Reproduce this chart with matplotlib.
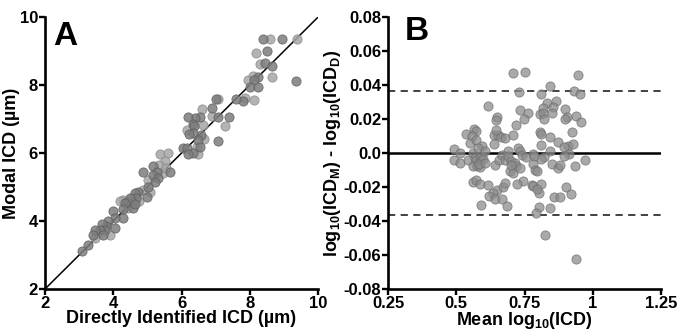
import numpy as np
import matplotlib
matplotlib.use("Agg")
import matplotlib.pyplot as plt

plt.rcParams['font.family'] = ['Liberation Sans', 'DejaVu Sans']
plt.rcParams['font.weight'] = 'bold'
plt.rcParams['mathtext.fontset'] = 'custom'
plt.rcParams['mathtext.rm'] = 'Liberation Sans:bold'
plt.rcParams['mathtext.it'] = 'Liberation Sans:bold'
plt.rcParams['mathtext.bf'] = 'Liberation Sans:bold'
plt.rcParams['mathtext.default'] = 'rm'

# Panel A: directly identified ICD vs modal ICD (um), two shades of points
a_dark_x = [8.39, 8.93, 8.49, 8.44, 8.66, 8.24, 9.35, 8.11, 8.00, 8.24, 7.80, 7.60, 7.02,
            7.40, 7.07, 7.07, 6.88, 6.54, 6.39, 6.20, 6.34, 6.36, 6.58, 6.34, 6.21, 6.49,
            6.54, 6.05, 6.15, 6.34, 6.20, 5.15, 5.66, 5.27, 5.17, 5.32, 5.22, 4.88, 5.02,
            4.98, 4.73, 4.63, 4.68, 4.39, 4.54, 4.49, 4.34, 4.59, 4.29, 4.63, 4.29, 4.00,
            4.05, 4.05, 3.85, 3.80, 3.66, 3.76, 3.61, 3.71, 3.46, 3.41, 3.27, 3.07]
a_dark_y = [9.36, 9.36, 9.00, 8.65, 8.56, 8.24, 8.12, 8.16, 7.93, 7.93, 7.53, 7.60, 7.60,
            7.07, 7.05, 6.36, 7.34, 7.05, 7.02, 7.05, 6.85, 6.79, 6.53, 6.58, 6.56, 6.38,
            6.19, 6.14, 6.14, 6.00, 5.97, 5.62, 5.45, 5.45, 5.35, 5.26, 5.16, 5.45, 5.00,
            4.72, 4.84, 4.82, 4.67, 4.57, 4.52, 4.67, 4.52, 4.38, 4.35, 4.50, 4.08, 4.30,
            4.08, 3.79, 3.99, 3.84, 3.92, 3.74, 3.74, 3.59, 3.74, 3.59, 3.30, 3.13]
a_light_x = [8.59, 9.37, 8.18, 8.29, 8.66, 8.10, 7.95, 8.11, 7.85, 7.07, 6.90, 7.27, 6.61,
             6.63, 6.15, 6.65, 6.44, 6.49, 5.37, 5.61, 5.51, 5.35, 5.46, 5.02, 5.07, 4.88,
             4.54, 4.29, 4.44, 3.56, 3.46, 3.90, 4.20, 4.75, 5.55]
a_light_y = [9.36, 9.36, 8.94, 8.61, 8.24, 8.26, 8.14, 7.55, 7.63, 7.58, 7.08, 6.80, 7.31,
             6.82, 6.67, 6.40, 6.19, 5.97, 5.97, 6.00, 5.78, 5.65, 5.40, 5.21, 4.84, 4.91,
             4.67, 4.62, 4.38, 3.64, 3.50, 3.60, 4.60, 4.60, 5.55]

# Panel B: Bland-Altman style, mean log10(ICD) vs difference of log10 values
b_mean = [0.708, 0.751, 0.947, 0.843, 0.730, 0.810, 0.932, 0.953, 0.865, 0.831, 0.617,
          0.816, 0.855, 0.735, 0.898, 0.763, 0.806, 0.819, 0.852, 0.938, 0.904, 0.900,
          0.821, 0.650, 0.645, 0.749, 0.718, 0.958, 0.925, 0.806, 0.810, 0.537, 0.565,
          0.574, 0.556, 0.550, 0.572, 0.638, 0.654, 0.663, 0.647, 0.678, 0.708, 0.639,
          0.727, 0.732, 0.690, 0.812, 0.843, 0.872, 0.908, 0.929, 0.894, 0.914, 0.894,
          0.845, 0.821, 0.810, 0.782, 0.739, 0.492, 0.492, 0.515, 0.515, 0.543, 0.562,
          0.567, 0.574, 0.586, 0.592, 0.598, 0.562, 0.575, 0.586, 0.584, 0.596, 0.580,
          0.607, 0.607, 0.640, 0.657, 0.669, 0.678, 0.690, 0.702, 0.714, 0.718, 0.696,
          0.706, 0.733, 0.702, 0.754, 0.785, 0.782, 0.788, 0.794, 0.849, 0.874, 0.880,
          0.935, 0.971, 0.562, 0.572, 0.586, 0.617, 0.650, 0.636, 0.621, 0.640, 0.667,
          0.672, 0.678, 0.743, 0.721, 0.779, 0.782, 0.812, 0.804, 0.794, 0.857, 0.880,
          0.902, 0.920, 0.589, 0.686, 0.804, 0.845, 0.792, 0.825, 0.940]
b_diff = [0.0472, 0.0478, 0.0462, 0.0394, 0.0361, 0.0347, 0.0367, 0.0345, 0.0308, 0.0297,
          0.0277, 0.0263, 0.0273, 0.0254, 0.0258, 0.0234, 0.0228, 0.0234, 0.0238, 0.0220,
          0.0215, 0.0200, 0.0200, 0.0210, 0.0195, 0.0200, 0.0166, 0.0181, 0.0121, 0.0121,
          0.0111, 0.0111, 0.0140, 0.0127, 0.0098, 0.0060, 0.0078, 0.0107, 0.0107, 0.0092,
          0.0133, 0.0088, 0.0107, 0.0055, 0.0029, 0.0010, 0.0010, 0.0049, 0.0092, 0.0064,
          0.0039, 0.0055, 0.0033, -0.0004, -0.0020, 0.0010, -0.0023, -0.0035, -0.0004,
          -0.0010, 0.0025, -0.0039, 0.0000, -0.0059, -0.0039, 0.0000, -0.0029, -0.0043,
          -0.0039, -0.0016, -0.0035, -0.0078, -0.0078, -0.0084, -0.0062, 0.0039, 0.0029,
          0.0010, -0.0059, -0.0068, -0.0043, -0.0010, -0.0039, -0.0020, -0.0049, -0.0059,
          -0.0078, -0.0107, -0.0117, -0.0088, -0.0068, -0.0023, -0.0016, -0.0062, -0.0101,
          -0.0107, -0.0062, -0.0088, -0.0068, -0.0078, -0.0039, -0.0172, -0.0160, -0.0181,
          -0.0189, -0.0215, -0.0234, -0.0250, -0.0273, -0.0269, -0.0201, -0.0176, -0.0166,
          -0.0181, -0.0189, -0.0195, -0.0181, -0.0234, -0.0209, -0.0259, -0.0258, -0.0201,
          -0.0240, -0.0306, -0.0312, -0.0316, -0.0322, -0.0351, -0.0484, -0.0624]
limits = [0.0366, -0.0366]

b_yticks = [-0.08, -0.06, -0.04, -0.02, 0.0, 0.02, 0.04, 0.06, 0.08]
b_yticklabels = ["-0.08", "-0.06", "-0.04", "-0.02", "0.0", "0.02", "0.04", "0.06", "0.08"]
b_xticks = [0.25, 0.5, 0.75, 1.0, 1.25]
b_xticklabels = ["0.25", "0.5", "0.75", "1", "1.25"]

fig = plt.figure(figsize=(6.78, 3.32), dpi=100)
axA = fig.add_axes([0.0664, 0.1295, 0.4027, 0.819])
axB = fig.add_axes([0.5723, 0.1295, 0.4027, 0.819])


def style(ax):
    for s in ['top', 'right']:
        ax.spines[s].set_visible(False)
    for s in ['left', 'bottom']:
        ax.spines[s].set_linewidth(1.9)
    ax.tick_params(width=1.7, length=4.5, labelsize=12, pad=0.5)
    for lab in ax.get_xticklabels() + ax.get_yticklabels():
        lab.set_fontweight('bold')


# panel A
axA.plot([2, 10], [2, 10], color='black', lw=1.1, zorder=1)
axA.scatter(a_light_x, a_light_y, s=44, facecolor='#a6a6a6', edgecolor='#8a8a8a',
            lw=0.6, alpha=0.85, zorder=2)
axA.scatter(a_dark_x, a_dark_y, s=44, facecolor='#7d7d7d', edgecolor='#5e5e5e',
            lw=0.6, alpha=0.85, zorder=3)
axA.set_xlim(2, 10)
axA.set_ylim(2, 10)
axA.set_xticks([2, 4, 6, 8, 10])
axA.set_yticks([2, 4, 6, 8, 10])
axA.set_xlabel("Directly Identified ICD (µm)", fontsize=13, fontweight='bold', labelpad=-1)
axA.set_ylabel("Modal ICD (µm)", fontsize=13, fontweight='bold', labelpad=0)
axA.text(2.25, 9.18, "A", fontsize=24, fontweight='bold')
style(axA)

# panel B
axB.axhline(0, color='black', lw=1.8, zorder=1)
for v in limits:
    axB.axhline(v, color='#333333', lw=1.3, ls=(0, (4, 3)), zorder=1)
axB.scatter(b_mean, b_diff, s=44, facecolor='#8c8c8c', edgecolor='#6a6a6a',
            lw=0.6, alpha=0.75, zorder=2)
axB.set_xlim(0.25, 1.25)
axB.set_ylim(-0.08, 0.08)
axB.set_xticks(b_xticks)
axB.set_xticklabels(b_xticklabels)
axB.set_yticks(b_yticks)
axB.set_yticklabels(b_yticklabels)
axB.set_xlabel("Mean log$_{10}$(ICD)", fontsize=13, fontweight='bold', labelpad=-1)
axB.set_ylabel("log$_{10}$(ICD$_M$) - log$_{10}$(ICD$_D$)", fontsize=13,
               fontweight='bold', labelpad=0)
axB.text(0.31, 0.0665, "B", fontsize=24, fontweight='bold')
style(axB)

fig.savefig("out.png", dpi=100)
